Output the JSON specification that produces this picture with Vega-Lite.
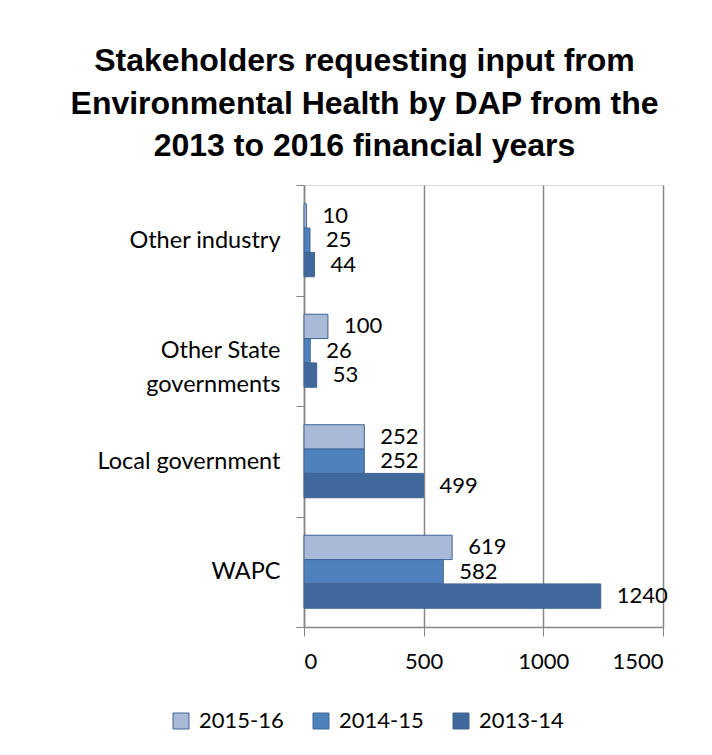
{
  "$schema": "https://vega.github.io/schema/vega-lite/v6.json",
  "width": 359,
  "height": 442,
  "autosize": {"type": "none"},
  "padding": {"left": 304, "top": 185, "right": 49, "bottom": 128},
  "background": "white",
  "title": {
    "text": ["Stakeholders requesting input from", "Environmental Health by DAP from the", "2013 to 2016 financial years"],
    "font": "Liberation Sans",
    "fontSize": 32,
    "fontWeight": "bold",
    "lineHeight": 42.5,
    "anchor": "middle",
    "dx": -119,
    "offset": 10,
    "color": "black"
  },
  "data": {
    "values": [
      {"category": "Other industry", "year": "2015-16", "value": 10},
      {"category": "Other industry", "year": "2014-15", "value": 25},
      {"category": "Other industry", "year": "2013-14", "value": 44},
      {"category": "Other State governments", "year": "2015-16", "value": 100},
      {"category": "Other State governments", "year": "2014-15", "value": 26},
      {"category": "Other State governments", "year": "2013-14", "value": 53},
      {"category": "Local government", "year": "2015-16", "value": 252},
      {"category": "Local government", "year": "2014-15", "value": 252},
      {"category": "Local government", "year": "2013-14", "value": 499},
      {"category": "WAPC", "year": "2015-16", "value": 619},
      {"category": "WAPC", "year": "2014-15", "value": 582},
      {"category": "WAPC", "year": "2013-14", "value": 1240}
    ]
  },
  "encoding": {
    "y": {
      "field": "category",
      "type": "nominal",
      "sort": ["Other industry", "Other State governments", "Local government", "WAPC"],
      "scale": {"paddingInner": 0, "paddingOuter": 0},
      "axis": {
        "title": null,
        "tickBand": "extent",
        "tickSize": 8,
        "tickColor": "#868686",
        "domainColor": "#868686",
        "domainWidth": 1.5,
        "labelFont": "Lato",
        "labelFontSize": 23.5,
        "labelColor": "black",
        "labelPadding": 16,
        "labelLimit": 300,
        "labelLineHeight": 34,
        "labelExpr": "datum.label == 'Other State governments' ? ['Other State', 'governments'] : datum.label"
      }
    },
    "yOffset": {
      "field": "year",
      "type": "nominal",
      "sort": ["2015-16", "2014-15", "2013-14"],
      "scale": {"paddingInner": 0, "paddingOuter": 0.77}
    },
    "x": {
      "field": "value",
      "type": "quantitative",
      "scale": {"domain": [0, 1500], "nice": false},
      "axis": {
        "title": null,
        "values": [0, 500, 1000, 1500],
        "format": "d",
        "grid": true,
        "gridColor": "#868686",
        "gridWidth": 1.5,
        "tickColor": "#868686",
        "tickSize": 9,
        "domainColor": "#868686",
        "domainWidth": 1.5,
        "labelFont": "Lato",
        "labelFontSize": 22,
        "labelColor": "black",
        "labelPadding": 15
      }
    }
  },
  "layer": [
    {
      "mark": {"type": "bar", "stroke": "#3F6494", "strokeWidth": 1},
      "encoding": {
        "color": {
          "field": "year",
          "type": "nominal",
          "sort": ["2015-16", "2014-15", "2013-14"],
          "scale": {"domain": ["2015-16", "2014-15", "2013-14"], "range": ["#A9BAD9", "#4F81BD", "#41689B"]},
          "legend": {
            "title": null,
            "orient": "none",
            "legendX": -134,
            "legendY": 525,
            "direction": "horizontal",
            "symbolType": "square",
            "symbolSize": 256,
            "symbolStrokeColor": "#3F6494",
            "symbolStrokeWidth": 1,
            "labelFont": "Lato",
            "labelFontSize": 22,
            "labelColor": "black",
            "columnPadding": 26,
            "labelOffset": 7
          }
        }
      }
    },
    {
      "mark": {"type": "text", "align": "left", "baseline": "middle", "dx": 16, "font": "Lato", "fontSize": 22, "color": "black"},
      "encoding": {"text": {"field": "value", "type": "quantitative"}}
    }
  ]
}
